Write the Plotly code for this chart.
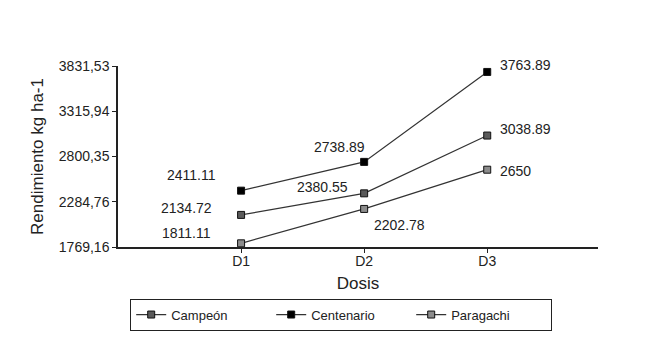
import plotly.graph_objects as go

categories = ["D1", "D2", "D3"]
campeon = [2134.72, 2380.55, 3038.89]
centenario = [2411.11, 2738.89, 3763.89]
paragachi = [1811.11, 2202.78, 2650]
y_ticks = [1769.16, 2284.76, 2800.35, 3315.94, 3831.53]
y_tick_labels = ["1769,16", "2284,76", "2800,35", "3315,94", "3831,53"]
label_texts = {
    "Campeón": ["2134.72", "2380.55", "3038.89"],
    "Centenario": ["2411.11", "2738.89", "3763.89"],
    "Paragachi": ["1811.11", "2202.78", "2650"],
}

series = [
    ("Campeón", campeon, "#5a5a5a"),
    ("Centenario", centenario, "#000000"),
    ("Paragachi", paragachi, "#8c8c8c"),
]

# label offsets (xshift, yshift, xanchor) per series/point
label_style = {
    "Campeón": [(-55, 7, "center"), (-42, 6, "center"), (11, 7, "left")],
    "Centenario": [(-50, 16, "center"), (-25, 15, "center"), (11, 7, "left")],
    "Paragachi": [(-55, 10, "center"), (35, -16, "center"), (11, -1, "left")],
}

FONT = "Liberation Sans, Arial"

fig = go.Figure()
annotations = []
for name, vals, mcol in series:
    fig.add_trace(go.Scatter(
        x=categories, y=vals, name=name, mode="lines+markers",
        line=dict(color="#333333", width=1.2),
        marker=dict(symbol="square", size=7, color=mcol,
                    line=dict(color="#111111", width=1)),
    ))
    for i, (c, v) in enumerate(zip(categories, vals)):
        xs, ys, xa = label_style[name][i]
        annotations.append(dict(
            x=c, y=v, text=label_texts[name][i], showarrow=False,
            xshift=xs, yshift=ys, xanchor=xa, yanchor="middle",
            font=dict(family=FONT, size=14, color="#222222"),
        ))

# the page body adds an 8px margin, so margins are compensated
fig.update_layout(
    width=645, height=353,
    margin=dict(l=110, r=55, t=58, b=114, autoexpand=False),
    paper_bgcolor="white", plot_bgcolor="white",
    font=dict(family=FONT, size=14, color="#222222"),
    annotations=annotations,
    showlegend=True,
    legend=dict(orientation="h", x=0.465, xanchor="center", y=-0.285, yanchor="top",
                bordercolor="#222222", borderwidth=1, font=dict(size=13),
                itemwidth=30, entrywidth=95, tracegroupgap=0),
)
fig.update_xaxes(
    type="category", range=[-1, 2.9], showgrid=False, zeroline=False,
    showline=True, linecolor="#222222", linewidth=1.5,
    ticks="outside", ticklen=4, tickcolor="#222222", ticklabelstandoff=-4,
    title=dict(text="Dosis", font=dict(size=17), standoff=10),
    tickfont=dict(size=14),
)
fig.update_yaxes(
    range=[1769.16, 3831.53], showgrid=False, zeroline=False,
    showline=True, linecolor="#222222", linewidth=1.5,
    ticks="outside", ticklen=4, tickcolor="#222222",
    tickvals=y_ticks, ticktext=y_tick_labels,
    title=dict(text="Rendimiento kg ha-1", font=dict(size=17), standoff=11),
    tickfont=dict(size=14),
)

fig.write_html("out.html")
